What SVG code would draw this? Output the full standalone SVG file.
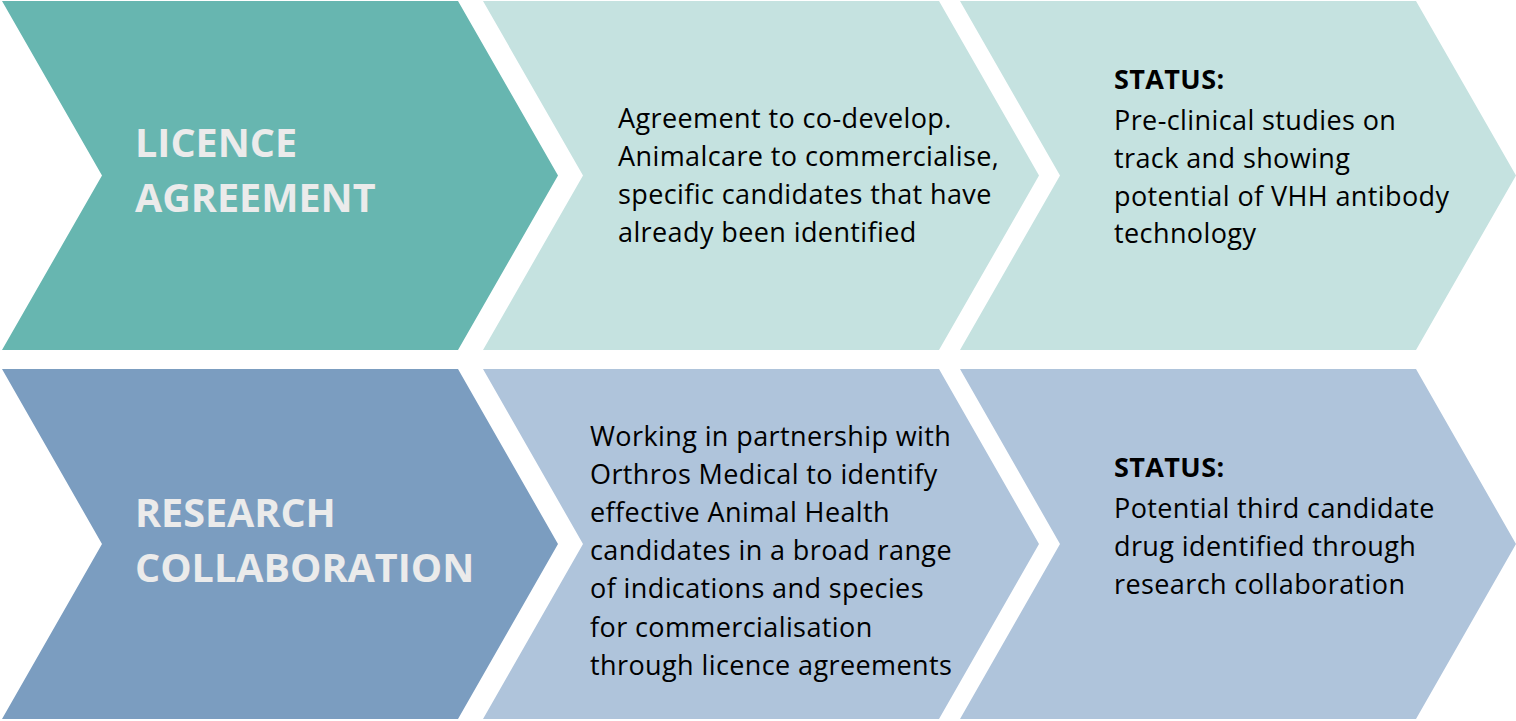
<svg xmlns="http://www.w3.org/2000/svg" width="1516" height="721" viewBox="0 0 1516 721">
<style>
.t1{fill:#67B6B0}.t2{fill:#C5E2E0}.b1{fill:#7B9DC0}.b2{fill:#AFC4DB}
.h{font-family:"Open Sans","Liberation Sans",sans-serif;font-weight:bold;font-size:39.5px;fill:#EBEBEB}
.x{font-family:"Open Sans","Liberation Sans",sans-serif;font-size:27px;letter-spacing:0.4px;fill:#000}
.s{font-weight:bold}
</style>
<rect width="1516" height="721" fill="#fff"/>
<g id="licence-agreement">
<polygon class="t1" points="2,1 458,1 558,175.5 458,350 2,350 102,175.5"/>
<text class="h" x="135"><tspan x="135" y="157">LICENCE</tspan><tspan x="135" y="212">AGREEMENT</tspan></text>
</g>
<g id="licence-detail">
<polygon class="t2" points="483,1 939,1 1039,175.5 939,350 483,350 583,175.5"/>
<text class="x"><tspan x="618" y="128">Agreement to co-develop.</tspan><tspan x="618" y="166">Animalcare to commercialise,</tspan><tspan x="618" y="204">specific candidates that have</tspan><tspan x="618" y="242">already been identified</tspan></text>
</g>
<g id="licence-status">
<polygon class="t2" points="960,1 1416,1 1516,175.5 1416,350 960,350 1060,175.5"/>
<text class="x"><tspan class="s" x="1114" y="89">STATUS:</tspan><tspan x="1114" y="130">Pre-clinical studies on</tspan><tspan x="1114" y="168">track and showing</tspan><tspan x="1114" y="206">potential of VHH antibody</tspan><tspan x="1114" y="243">technology</tspan></text>
</g>
<g id="research-collaboration">
<polygon class="b1" points="2,369 458,369 558,544 458,719 2,719 102,544"/>
<text class="h"><tspan x="135" y="527">RESEARCH</tspan><tspan x="135" y="582">COLLABORATION</tspan></text>
</g>
<g id="research-detail">
<polygon class="b2" points="483,369 939,369 1039,544 939,719 483,719 583,544"/>
<text class="x"><tspan x="590" y="446">Working in partnership with</tspan><tspan x="590" y="484">Orthros Medical to identify</tspan><tspan x="590" y="522">effective Animal Health</tspan><tspan x="590" y="560">candidates in a broad range</tspan><tspan x="590" y="598">of indications and species</tspan><tspan x="590" y="637">for commercialisation</tspan><tspan x="590" y="675">through licence agreements</tspan></text>
</g>
<g id="research-status">
<polygon class="b2" points="960,369 1416,369 1516,544 1416,719 960,719 1060,544"/>
<text class="x"><tspan class="s" x="1114" y="477">STATUS:</tspan><tspan x="1114" y="518">Potential third candidate</tspan><tspan x="1114" y="556">drug identified through</tspan><tspan x="1114" y="594">research collaboration</tspan></text>
</g>
<g id="connectors"/>
</svg>
